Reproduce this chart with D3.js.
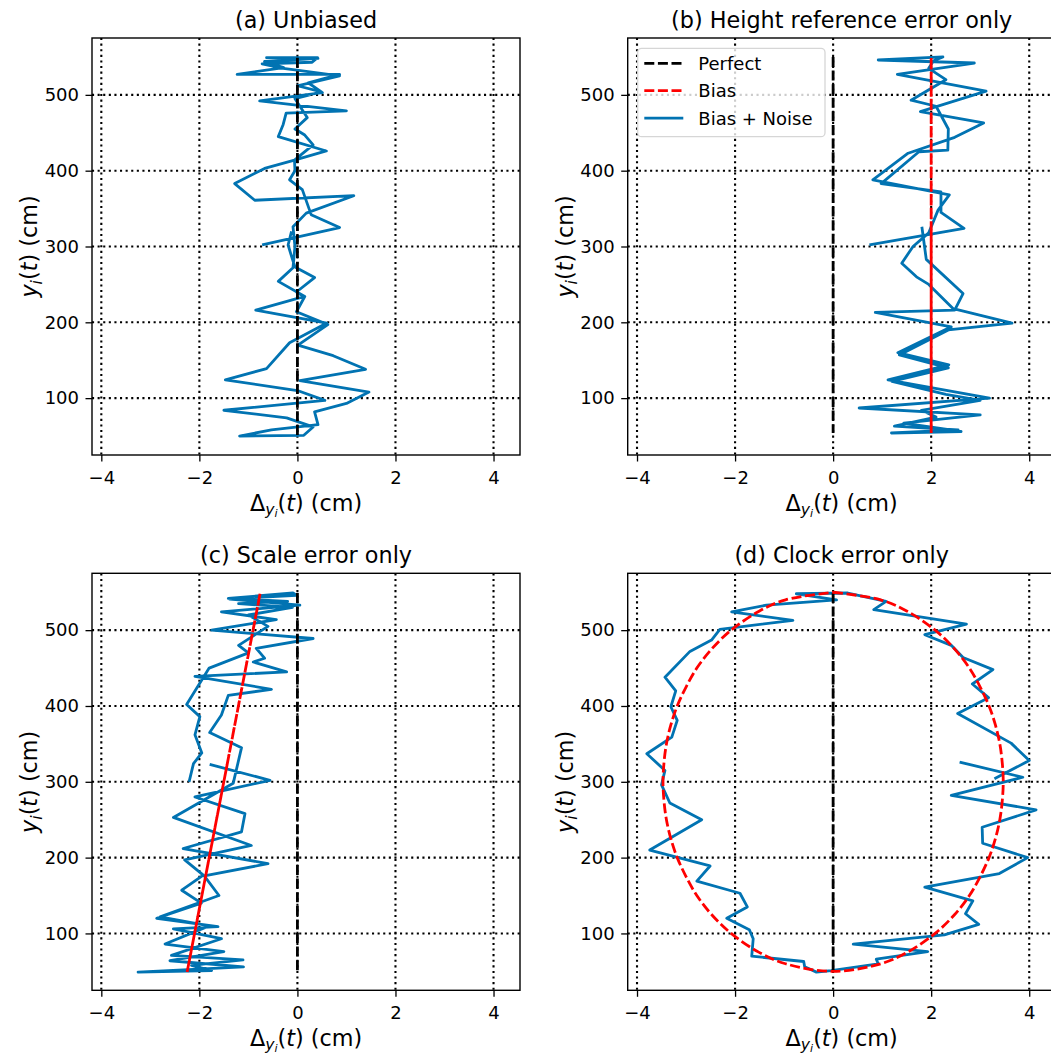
<!DOCTYPE html>
<html>
<head>
<meta charset="utf-8">
<script src="https://cdnjs.cloudflare.com/ajax/libs/d3/7.8.5/d3.min.js"></script>
<style>
  body { margin: 0; background: #fff; }
  text { font-family: "DejaVu Sans", sans-serif; fill: #000; }
</style>
</head>
<body>
<div id="graph"></div>
<script>
const xTicks = [-4, -2, 0, 2, 4];
const yTicks = [100, 200, 300, 400, 500];
const xDomain = [-4.19, 4.54];
const yDomain = [25, 575];

const titles = ['(a) Unbiased', '(b) Height reference error only', '(c) Scale error only', '(d) Clock error only'];
const legendLabels = ['Perfect', 'Bias', 'Bias + Noise'];

// (a) noise only
const aX = [-0.12,-0.19,-0.12,-0.05,0.35,-0.02,0.13,-0.85,0.60,-0.16,-0.63,-1.47,0.00,0.56,-1.50,-0.22,0.32,0.13,-1.18,
  -0.53,0.42,0.35,1.00,1.46,0.05,1.39,0.73,0.01,0.62,-0.02,0.15,-0.39,-0.09,-0.05,-0.09,0.18,1.15,-0.87,-1.28,-0.67,-0.06,0.59,-0.39,-0.29,-0.23,1.00,-0.77,0.51,0.22,0.86,-1.23,-0.28,-0.67,0.42,
  -0.63,0.41,0.30,-0.72,-0.29,-0.05,0.86,0.00,0.49,-0.05,0.20,-0.05,0.15,0.32,-0.06,-0.05,-0.16,0.10,0.28,0.86,-0.72];
const aY = [320,302,287,273,259,240,234,216,199,173,139,124,110,97,84,74,62,51,50,
  58,65,82,93,108,123,138,156,170,197,214,234,254,272,300,326,344,367,361,383,403,414,426,445,461,476,479,492,503,516,527,527,536,544,548,
  549,549,543,541,535,533,525,512,504,495,470,455,447,434,414,400,388,375,342,325,302];

// (b) bias 2 cm + noise
const bBias = 2;
const bX = [1.81,1.90,2.65,2.48,0.86,2.41,1.32,2.36,1.12,3.19,0.53,3.00,1.44,2.61,1.19,
  2.55,1.25,2.10,1.80,3.00,2.30,1.20,2.35,1.35,2.35,3.65,2.45,1.95,1.70,1.40,1.63,1.95,2.14,2.37,0.81,1.53,2.48,3.07,1.78,3.12,1.31,2.88,0.92,2.24,
  2.05,1.95,2.30,1.59,2.10,2.35,2.34,1.75,0.98,2.20,2.20,2.67,0.74];
const bY = [326,283,238,216,213,194,160,144,124,100,87,78,67,56,54,
  58,63,75,84,97,105,122,140,157,190,199,218,250,260,278,300,318,348,368,388,423,444,463,478,505,527,542,546,550,
  545,535,520,493,485,455,427,425,383,372,345,324,302];

// (c) scale error: bias line end points, then noisy series
const cBiasX = [-2.25, -0.78];
const cBiasY = [49, 542];
const cX = [-1.79,-0.56,-2.09,-1.07,-1.14,-2.33,-0.60,-1.90,-1.60,-2.80,-1.80,-2.70,-1.50,-2.60,-1.10,-3.25,
  -1.75,-2.16,-1.11,-2.57,-1.55,-2.53,-1.62,-2.87,-1.96,-2.36,-1.92,-2.30,-0.94,-2.53,-1.31,-1.14,-1.79,-1.55,-1.41,-0.53,-2.09,-0.22,-0.90,-0.67,-0.84,0.32,-1.75,-0.43,-1.55,0.05,-1.38,-0.02,-0.09,
  -1.41,-0.20,-1.20,-0.10,-1.00,-0.60,-1.20,-1.00,-1.80,-2.26,-1.99,-2.09,-1.95,-2.12,-2.21];
const cY = [323,302,280,258,234,212,192,176,150,122,110,86,76,64,56,49,
  51,58,65,71,93,106,109,120,140,157,177,197,216,253,298,345,365,388,414,422,439,445,458,463,476,489,500,514,524,533,541,546,549,
  542,538,535,530,520,505,480,470,450,402,386,362,338,324,300];

const dBiasX = [0,0.97,1.51,2.08,2.48,2.78,3.00,3.18,3.31,3.40,3.45,3.47,3.45,3.40,3.31,3.18,3.00,2.78,2.48,2.08,1.51,0.97,0,
  -0.97,-1.51,-2.08,-2.48,-2.78,-3.00,-3.18,-3.31,-3.40,-3.45,-3.47,-3.45,-3.40,-3.31,-3.18,-3.00,-2.78,-2.48,-2.08,-1.51,-0.97,0];
const dBiasY = [550,540,525,500,475,450,425,400,375,350,325,300,275,250,225,200,175,150,125,100,75,60,50,
  60,75,100,125,150,175,200,225,250,275,300,325,350,375,400,425,450,475,500,525,540,550];
const dX = [2.58,3.87,2.41,4.14,3.04,3.05,3.97,3.39,1.87,2.85,2.70,2.97,2.27,0.41,1.93,0.88,0.92,-0.04,-0.34,-0.58,
  -0.60,-1.66,-1.63,-1.71,-2.17,-1.75,-1.90,-2.78,-2.51,-3.74,-2.68,-3.33,-3.50,-3.43,-3.80,-3.29,-3.18,-3.31,-3.21,-3.43,
  -2.92,-2.48,-2.31,-0.82,-2.07,-1.36,0.07,-0.75,0.30,1.08,0.83,2.72,1.87,2.41,2.65,3.26,2.84,3.17,2.54,3.63,4.00,3.29];
const dY = [326,306,282,263,240,219,200,179,161,143,126,112,98,86,76,66,60,51,49,56,
  63,70,93,105,120,135,153,169,189,210,250,272,296,315,337,359,381,399,420,438,
  472,487,501,513,524,533,540,548,549,538,527,508,494,480,464,448,429,411,390,351,328,304];

const W = 428, H = 417;
const BLUE = '#0173b2';
const LW = 2.8;
const DASH = '10,3.6';

var svg = d3.select('#graph')
  .append('svg')
  .attr('width', 1051)
  .attr('height', 1056)
  .style('background', '#fff');

function zip(xs, ys) {
  return xs.map((v, i) => [v, ys[i]]);
}

function drawPanel(p) {
  var x = d3.scaleLinear().domain(xDomain).range([p.left, p.left + W]);
  var y = d3.scaleLinear().domain(yDomain).range([p.top + H, p.top]);
  var g = svg.append('g');

  // dotted grid
  g.selectAll('.gx').data(xTicks).enter().append('line')
    .attr('x1', d => x(d)).attr('x2', d => x(d))
    .attr('y1', p.top).attr('y2', p.top + H)
    .attr('stroke', '#000').attr('stroke-width', 2.1).attr('stroke-dasharray', '2.1,3.5');
  g.selectAll('.gy').data(yTicks).enter().append('line')
    .attr('y1', d => y(d)).attr('y2', d => y(d))
    .attr('x1', p.left).attr('x2', p.left + W)
    .attr('stroke', '#000').attr('stroke-width', 2.1).attr('stroke-dasharray', '2.1,3.5');

  var line = d3.line().x(d => x(d[0])).y(d => y(d[1]));

  // noisy measurement
  g.append('path')
    .datum(zip(p.noiseX, p.noiseY))
    .attr('d', line)
    .attr('fill', 'none').attr('stroke', BLUE).attr('stroke-width', LW)
    .attr('stroke-linejoin', 'round');

  // perfect: zero error over the sampled heights
  g.append('path')
    .datum(d3.extent(p.noiseY).reverse().map(v => [0, v]))
    .attr('d', line)
    .attr('fill', 'none').attr('stroke', '#000').attr('stroke-width', LW)
    .attr('stroke-dasharray', DASH);

  if (p.bias) {
    g.append('path')
      .datum(p.bias)
      .attr('d', p.biasCurve ? line.curve(p.biasCurve) : line)
      .attr('fill', 'none').attr('stroke', '#ff0000').attr('stroke-width', LW)
      .attr('stroke-dasharray', DASH);
  }

  // frame
  g.append('rect')
    .attr('x', p.left).attr('y', p.top).attr('width', W).attr('height', H)
    .attr('fill', 'none').attr('stroke', '#000').attr('stroke-width', 1.4);

  var xAxis = g.append('g')
    .attr('transform', 'translate(0,' + (p.top + H) + ')')
    .call(d3.axisBottom(x).tickValues(xTicks).tickSize(6.5).tickSizeOuter(0).tickPadding(9.5));
  var yAxis = g.append('g')
    .attr('transform', 'translate(' + p.left + ',0)')
    .call(d3.axisLeft(y).tickValues(yTicks).tickSize(6.5).tickSizeOuter(0).tickPadding(6.5));
  [xAxis, yAxis].forEach(a => {
    a.select('.domain').remove();
    a.selectAll('line').attr('stroke', '#000').attr('stroke-width', 1.3);
    a.selectAll('text').attr('font-family', '"DejaVu Sans", sans-serif').attr('font-size', 18).attr('fill', '#000');
  });

  g.append('text')
    .attr('x', p.left + W / 2).attr('y', p.top - 10)
    .attr('text-anchor', 'middle').attr('font-size', 22.3)
    .text(p.title);

  // x label: Δ_{y_i}(t) (cm)
  var xl = g.append('text')
    .attr('x', p.left + W / 2).attr('y', p.top + H + 56)
    .attr('text-anchor', 'middle').attr('font-size', 22.3);
  xl.append('tspan').text('Δ');
  xl.append('tspan').attr('font-style', 'italic').attr('font-size', 15.6).attr('dy', 3.5).text('y');
  xl.append('tspan').attr('font-style', 'italic').attr('font-size', 11).attr('dy', 2.2).text('i');
  xl.append('tspan').attr('dy', -5.7).text('(');
  xl.append('tspan').attr('font-style', 'italic').text('t');
  xl.append('tspan').text(') (cm)');

  // y label: y_i(t) (cm)
  var cy = p.top + H / 2, cx = p.left - 55;
  var yl = g.append('text')
    .attr('transform', 'translate(' + cx + ',' + cy + ') rotate(-90)')
    .attr('text-anchor', 'middle').attr('font-size', 22.3);
  yl.append('tspan').attr('font-style', 'italic').text('y');
  yl.append('tspan').attr('font-style', 'italic').attr('font-size', 15.6).attr('dy', 4.5).text('i');
  yl.append('tspan').attr('dy', -4.5).text('(');
  yl.append('tspan').attr('font-style', 'italic').text('t');
  yl.append('tspan').text(') (cm)');

  return {x: x, y: y};
}

var cScale = d3.scaleLinear().domain(cBiasY).range(cBiasX);

var panels = [
  {title: titles[0], left: 92, top: 38, noiseX: aX, noiseY: aY, bias: null},
  {title: titles[1], left: 627.7, top: 38, noiseX: bX, noiseY: bY, bias: bY.map(v => [bBias, v])},
  {title: titles[2], left: 92, top: 573.3, noiseX: cX, noiseY: cY, bias: cY.map(v => [cScale(v), v])},
  {title: titles[3], left: 627.7, top: 573.3, noiseX: dX, noiseY: dY, bias: zip(dBiasX, dBiasY), biasCurve: d3.curveCatmullRom}
];

panels.forEach(p => drawPanel(p));

// legend in panel (b)
var lg = svg.append('g').attr('transform', 'translate(637.7,48.3)');
lg.append('rect')
  .attr('width', 187.3).attr('height', 88.4).attr('rx', 4)
  .attr('fill', '#fff').attr('fill-opacity', 0.8)
  .attr('stroke', '#d6d6d6').attr('stroke-width', 1.3);
var legendStyles = [
  {color: '#000', dash: DASH},
  {color: '#ff0000', dash: DASH},
  {color: BLUE, dash: null}
];
legendLabels.forEach((lab, i) => {
  var ry = 15 + i * 27.4;
  lg.append('line')
    .attr('x1', 6.6).attr('x2', 45.6).attr('y1', ry).attr('y2', ry)
    .attr('stroke', legendStyles[i].color).attr('stroke-width', LW)
    .attr('stroke-dasharray', legendStyles[i].dash);
  lg.append('text')
    .attr('x', 60.6).attr('y', ry + 6.5)
    .attr('font-size', 18)
    .text(lab);
});
</script>
</body>
</html>
